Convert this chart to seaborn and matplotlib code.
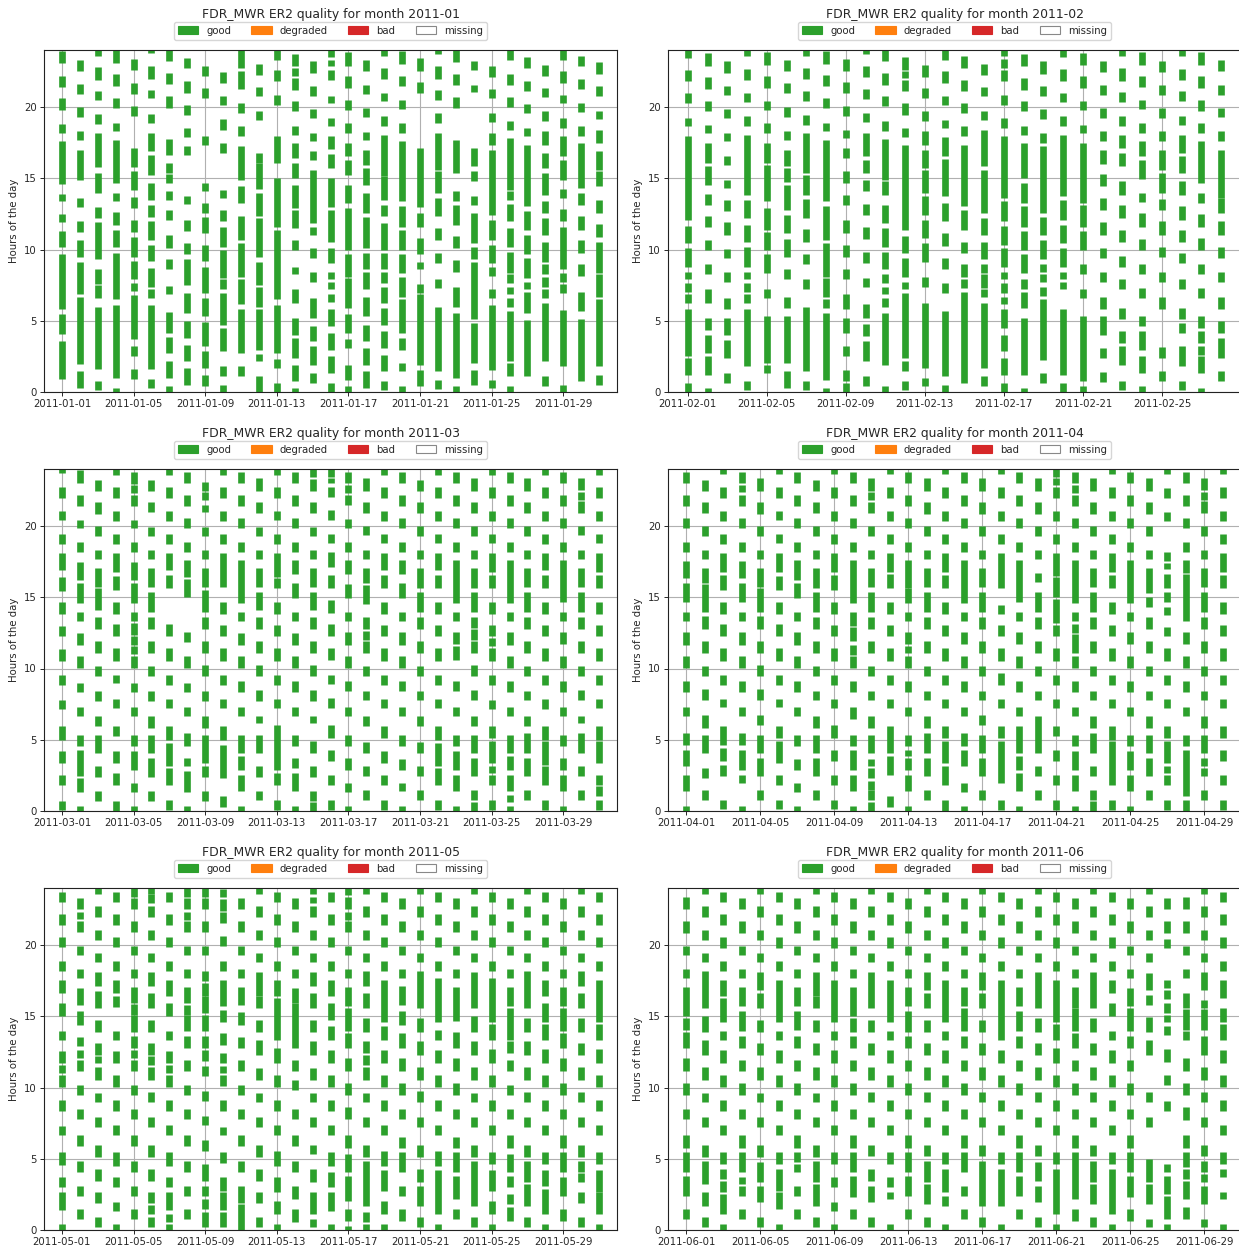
import matplotlib
matplotlib.use("Agg")
import matplotlib.pyplot as plt
import matplotlib.dates as mdates
from matplotlib.patches import Patch
import pandas as pd
import seaborn as sns

# ── data: per day, the hour spans (start-end) flagged "good" ──────────────────
MONTHS = ["2011-01", "2011-02", "2011-03", "2011-04", "2011-05", "2011-06"]

GOOD_JAN = [
    "23.1-23.9 21.4-22.2 19.8-20.6 18.2-18.8 14.6-17.6 13.4-13.9 11.9-12.5 10.2-11.3 5.8-9.7 4.1-5.5 0.9-3.6",
    "22.5-23.3 20.9-21.6 19.3-20.0 17.7-18.3 14.9-17.0 13.0-13.6 11.2-12.0 9.5-10.7 6.9-9.1 2.0-6.7 0.3-1.45",
    "23.6-24 21.9-22.8 20.5-21.1 18.8-19.5 15.8-18.2 14.0-15.4 12.2-13.0 9.3-11.9 7.6-8.6 6.6-7.5 1.6-6.0 0.15-0.75",
    "23.1-24 21.5-22.3 19.9-20.6 18.3-18.9 14.7-17.7 13.4-14.0 11.7-12.6 10.2-11.4 6.5-9.75 1.0-6.1 0-0.3",
    "22.6-23.4 20.9-21.7 19.4-20.1 15.8-17.1 14.2-15.5 12.9-13.7 11.2-12.1 9.5-10.9 7.9-9.2 7.1-7.65 3.7-6.8 2.5-3.2 0.9-1.6",
    "23.8-24 22.0-22.85 20.6-21.2 18.9-19.5 16.9-18.2 15.2-16.6 13.5-14.7 12.3-13.1 10.7-12.0 9.2-10.3 7.4-8.7 6.6-7.2 1.6-6.1 0.3-0.9",
    "23.2-24 21.6-22.4 19.9-20.75 16.65-17.75 15.4-16.1 14.7-15.3 13.5-14.1 12.05-12.75 10.1-11.05 8.6-9.3 6.85-7.45 4.15-5.6 2.75-3.85 1.0-2.2 0-0.4",
    "22.75-23.45 21.0-21.8 19.45-20.15 17.9-18.5 16.6-17.25 13.2-13.75 11.3-12.05 9.65-10.45 7.5-9.3 5.55-6.95 3.8-4.95 2.15-3.3 0.5-1.7",
    "22.15-22.9 20.6-21.3 17.35-18.0 14.1-14.7 12.55-13.25 11.15-12.3 9.2-10.35 6.95-8.8 5.3-6.6 3.2-4.9 1.7-2.85 0.4-1.2",
    "21.7-22.45 20.15-20.75 18.4-19.15 16.8-17.5 13.6-14.2 12.0-12.8 10.2-11.6 8.0-9.95 7.2-7.9 4.7-6.95 2.85-4.5 1.1-1.8 0-0.5",
    "22.75-24 21.25-22.5 19.6-20.3 17.95-18.65 14.9-17.25 13.25-14.45 10.7-12.35 8.1-10.45 6.15-7.9 2.75-5.8 1.1-1.8",
    "22.25-23.05 20.75-21.4 19.1-19.75 16.1-16.75 14.25-16.05 12.35-13.95 9.5-12.2 7.5-9.15 6.0-7.4 2.95-5.8 2.15-2.7 0-1.1",
    "23.3-24 21.8-22.6 20.15-20.85 16.05-17.95 11.6-15.0 6.5-11.4 2.75-6.1 1.7-2.3 0-0.6",
    "22.85-23.7 22.15-22.75 21.2-22.05 19.7-20.4 18.05-18.7 16.4-17.45 15.0-16.1 12.9-14.55 11.5-12.8 10.0-10.7 8.25-8.8 6.25-7.2 4.0-5.2 2.4-3.8 0.75-1.9 0-0.3",
    "22.4-23.2 20.75-21.5 19.2-19.85 17.6-18.2 16.3-16.9 11.85-15.6 11.05-11.6 9.4-10.1 7.7-8.4 5.2-6.6 3.55-4.65 1.9-3.2 0.65-1.35",
    "23.5-24 22.9-23.3 21.9-22.6 20.3-20.75 18.65-19.2 17.05-17.95 15.7-16.7 13.0-15.0 10.55-12.8 9.05-10.1 7.9-8.45 7.2-7.7 6.3-6.85 4.6-5.85 2.95-4.15 1.35-2.5 0-0.65",
    "22.9-23.85 21.35-22.15 19.8-20.5 18.2-18.9 16.55-17.45 15.25-16.3 13.25-14.55 10.0-12.9 8.1-9.65 5.9-8.0 4.15-5.45 3.1-3.7 0.85-1.9 0-0.4",
    "22.5-23.3 20.9-21.55 19.3-19.95 17.65-18.25 15.95-16.95 14.55-15.7 12.55-14.0 10.1-12.3 8.6-9.75 7.2-8.45 5.3-6.7 3.55-4.7 1.9-3.1 0.3-1.45",
    "23.55-24 21.95-22.75 20.4-21.0 18.7-19.4 15.15-18.05 13.5-15.15 12.35-13.15 10.0-11.85 8.6-9.75 7.65-8.45 6.25-7.4 4.7-5.9 3.1-4.25 1.45-2.6 0.15-0.75",
    "23.05-23.9 21.45-22.2 19.85-20.5 18.2-18.9 13.4-17.6 11.6-13.05 10.0-11.4 8.35-9.65 6.7-8.1 4.15-6.5 2.95-3.8 1.45-2.05 0-0.4",
    "22.5-23.45 21.0-21.75 13.0-17.1 11.6-12.55 9.65-10.8 8.6-9.15 6.95-7.55 1.9-6.85 0.4-1.55",
    "23.7-24 21.95-22.85 20.5-21.2 18.9-19.55 15.6-18.2 14.0-15.5 12.35-13.6 10.7-11.5 9.05-9.75 7.3-7.95 1.45-6.0 0.2-0.85",
    "23.15-24 21.55-22.35 19.95-20.7 15.35-17.7 13.4-14.1 11.75-13.15 10.1-10.95 8.45-9.25 6.0-7.4 1.0-5.55 0-0.4",
    "22.6-23.25 21.05-21.55 15.85-17.1 14.8-15.5 13.15-13.75 10.45-12.55 9.3-10.2 5.1-9.15 2.05-4.85 0.5-1.55",
    "22.1-22.85 20.6-21.25 18.95-19.6 17.3-18.2 12.45-16.95 10.7-12.1 9.05-10.35 8.15-8.8 6.6-7.2 1.55-6.1 0.3-0.85",
    "23.3-24 21.55-22.35 20.0-20.7 18.4-19.05 14.2-17.8 13.5-14.1 12.0-13.2 10.2-11.5 8.35-9.85 7.65-8.25 6.85-7.4 6.0-6.6 2.15-5.65 1.1-2.05 0-0.4",
    "22.75-23.5 21.15-21.85 19.6-20.2 17.95-18.55 13.05-17.3 11.4-12.7 9.65-11.05 8.0-9.4 7.2-7.7 5.55-7.05 1.1-5.05",
    "22.2-22.95 20.7-21.35 19.05-19.7 17.35-18.35 15.7-16.75 13.85-15.35 12.55-13.4 11.05-12.2 9.15-10.55 8.25-8.95 7.4-8.1 6.6-7.2 2.15-6.25 0.4-1.1",
    "23.3-24 21.7-22.5 20.25-20.85 18.5-19.2 16.55-17.95 14.9-16.3 13.6-14.25 12.0-12.85 8.6-11.6 7.75-8.35 6.95-7.55 1.8-5.75 0-0.5",
    "22.85-23.6 21.25-21.95 19.65-20.3 18.0-18.65 14.3-17.45 13.15-13.95 11.4-12.35 9.75-10.7 8.15-8.95 5.65-7.05 0.75-5.1",
    "22.35-23.15 20.8-21.45 19.15-19.75 17.45-18.4 15.6-16.9 14.45-15.5 12.55-13.5 10.9-11.8 8.35-10.55 6.7-8.25 1.8-6.5 0.5-1.2",
]

GOOD_FEB = [
    "23.45-24 21.8-22.6 20.25-20.95 18.65-19.25 12.1-18.0 10.45-11.65 8.8-10.1 7.9-8.45 7.05-7.65 6.25-6.85 2.5-5.8 1.2-2.4 0-0.65",
    "22.9-23.8 21.25-22.1 19.7-20.4 18.15-18.75 16.05-17.45 14.55-15.85 13.15-13.9 11.6-12.35 9.95-10.7 8.25-8.95 6.25-7.2 4.35-5.2 2.75-4.0 1.2-2.5 0-0.3",
    "22.4-23.2 20.85-21.5 19.25-19.85 17.6-18.2 15.95-16.55 14.3-14.9 12.7-13.5 11.05-11.9 9.4-10.05 7.75-8.4 5.8-6.6 4.0-5.2 2.4-3.65 0.65-1.35",
    "23.55-24 21.9-22.65 20.35-21.0 18.7-19.35 13.85-18.05 12.2-13.5 10.55-11.75 8.8-10.2 7.9-8.45 7.05-7.65 6.25-6.85 1.8-5.8 0.15-0.75",
    "22.95-23.85 21.35-22.15 19.8-20.45 18.2-18.85 16.05-17.5 13.4-15.9 11.4-12.9 10.0-11.25 8.35-9.65 6.6-7.2 2.05-5.3 1.35-1.9",
    "22.5-23.3 20.95-21.65 19.3-20.0 17.7-18.3 15.85-17.0 14.75-15.7 12.8-14.55 11.15-12.4 9.5-10.75 7.9-8.6 5.9-6.7 2.05-5.3 0.3-1.45",
    "23.6-24 21.95-22.75 20.45-21.1 18.75-19.45 15.35-18.2 13.85-15.25 12.2-13.55 10.55-11.45 8.95-9.7 7.25-7.9 1.45-6.0 0.15-0.75",
    "23.05-23.9 21.5-22.25 19.95-20.65 18.3-18.9 13.4-17.7 10.7-13.05 8.1-10.45 6.7-8.0 5.9-6.5 0.85-5.55 0-0.3",
    "22.55-23.35 21.0-21.75 19.4-20.1 17.8-18.4 16.4-17.1 14.7-15.5 13.1-13.8 11.15-12.1 9.5-10.35 7.9-8.65 5.8-6.85 4.15-5.2 2.5-3.2 0.75-1.55 0-0.65",
    "23.75-24 22.1-22.9 20.55-21.25 18.95-19.6 16.55-18.2 15.35-16.3 14.1-14.9 12.45-13.2 10.75-11.6 9.05-9.8 7.35-8.0 5.2-6.15 3.9-4.75 2.15-3.55 0.4-1.1",
    "23.2-24 21.55-22.4 20.05-20.75 18.35-19.05 14.9-17.75 13.85-14.8 11.85-13.15 10.2-11.5 8.6-9.85 7.65-8.25 6.85-7.4 6.0-6.6 1.9-5.55 0-0.4",
    "22.6-23.5 22.05-22.5 21.1-21.9 19.45-20.25 17.9-18.55 11.4-17.3 9.75-10.95 8.1-9.4 7.2-7.7 2.4-6.95 1.45-2.15 0.15-0.75",
    "22.1-22.95 20.65-21.35 19.0-19.7 17.35-18.3 15.7-17.0 13.95-15.6 12.45-13.75 10.8-12.1 9.15-10.45 7.4-8.1 1.7-6.25 0.4-1.0",
    "23.3-24 21.7-22.5 20.15-20.8 18.55-19.1 16.55-17.9 13.75-16.35 12.0-13.25 10.25-11.15 8.65-9.4 6.95-7.65 1.1-5.65 0-0.5",
    "22.75-23.55 21.1-21.9 19.6-20.3 17.95-18.65 13.05-17.35 11.4-12.75 9.75-10.55 8.1-8.95 7.3-7.9 0.65-7.05",
    "22.25-23.05 20.75-21.4 19.1-19.7 15.85-18.4 12.55-15.55 11.05-12.2 9.3-10.55 8.35-8.95 7.3-8.25 6.7-7.2 1.7-6.25 0.45-1.1",
    "23.55-24 22.75-23.35 21.8-22.6 20.15-20.85 18.55-19.25 13.6-17.95 12.0-13.4 10.35-11.65 8.8-10.1 7.9-8.45 6.95-7.65 6.15-6.7 4.5-5.8 2.85-4.0 1.2-2.4 0-0.65",
    "22.85-23.7 21.2-22.05 19.7-20.4 18.05-18.7 15.05-17.45 13.25-14.7 11.6-13.05 10.0-11.3 8.35-9.65 7.25-7.9 5.9-7.05 1.2-5.2 0-0.3",
    "22.35-23.2 20.8-21.5 19.15-19.85 17.5-18.2 12.55-17.25 11.05-12.3 9.3-10.7 8.4-9.0 7.7-8.3 6.75-7.35 2.25-6.55 0.65-1.35",
    "23.5-24 21.85-22.65 20.35-21.0 18.65-19.35 13.75-18.05 12.1-13.45 10.45-11.75 8.8-10.1 7.95-8.45 7.2-7.7 1.2-5.8 0-0.65",
    "22.95-23.8 21.35-22.15 19.8-20.45 18.2-18.75 13.25-17.45 11.6-13.15 10.0-11.3 8.3-8.95 6.6-7.2 0.75-5.3 0-0.4",
    "22.45-23.25 20.85-21.55 19.25-19.95 17.6-18.3 16.0-16.95 14.45-15.3 12.8-13.6 11.05-11.9 9.4-10.1 7.75-8.45 5.8-6.65 4.0-5.3 2.4-3.1 0.7-1.4",
    "23.55-24 21.85-22.75 20.35-21.05 18.7-19.4 17.1-18.05 15.85-16.75 13.85-14.8 12.2-13.1 10.55-11.4 8.8-9.55 7.2-7.9 5.1-5.9 3.45-4.25 1.9-3.2 0.15-0.75",
    "22.95-23.85 21.4-22.15 19.85-20.5 18.2-18.9 16.55-17.6 14.95-16.25 13.3-13.95 11.6-12.55 10.0-10.75 8.3-9.0 6.6-7.3 4.6-5.3 2.95-4.25 1.35-2.5 0-0.4",
    "22.45-23.25 20.85-21.55 19.25-19.95 17.6-18.3 15.6-17.0 14.0-15.35 12.75-13.55 11.05-12.0 9.5-10.2 7.7-8.4 5.8-6.7 2.4-3.15 0.75-1.45",
    "23.55-24 21.9-22.7 20.4-21.1 18.75-19.4 16.75-18.05 15.35-16.55 13.85-14.8 12.1-13.05 10.55-11.4 9.05-9.75 7.2-7.9 5.1-5.9 4.15-4.85 1.8-3.2 0.15-0.75",
    "22.95-23.85 21.35-22.15 19.75-20.5 18.2-18.9 14.65-17.6 13.25-14.0 11.6-12.5 10.0-10.8 8.3-9.0 6.6-7.3 4.5-5.35 3.45-4.25 2.6-3.2 1.35-2.5 0-0.3",
    "22.5-23.3 20.85-21.55 19.3-19.95 17.6-18.3 13.6-17.0 12.55-13.6 11.05-12.0 9.4-10.2 7.7-8.4 5.8-6.7 4.15-4.95 2.4-3.8 0.75-1.45",
]

GOOD_MAR = [
    "23.7-24 21.95-22.75 20.4-21.05 18.75-19.45 16.9-18.1 15.45-16.45 13.85-14.7 12.25-13.0 10.5-11.35 8.85-9.55 7.15-7.8 5.0-5.95 3.4-4.2 1.8-2.55 0.1-0.7",
    "23.0-23.9 21.4-22.15 19.85-20.45 18.2-18.85 16.2-17.5 14.6-16.0 13.3-13.95 11.65-12.5 10.05-10.85 8.35-9.0 6.65-7.3 4.55-5.35 2.45-4.3 1.3-2.35 0-0.35",
    "22.45-23.25 20.85-21.65 19.3-20.0 17.65-18.3 15.75-17.05 14.1-15.65 12.75-13.6 11.1-11.95 9.45-10.2 7.75-8.45 6.0-6.7 4.1-5.35 2.4-3.15 0.7-1.4",
    "23.6-24 21.95-22.75 20.35-21.05 18.75-19.45 16.8-18.1 15.5-16.5 13.85-14.7 12.25-13.15 10.55-11.45 8.95-9.55 7.25-7.85 5.25-5.95 3.4-4.2 1.85-2.65 0-0.7",
    "22.95-23.8 22.35-22.9 21.4-22.15 19.85-20.45 18.2-18.85 16.2-17.5 14.6-16.0 13.3-14.0 12.35-13.2 11.65-12.25 11.05-11.55 10.05-10.85 8.35-9.0 6.65-7.3 4.55-5.35 2.9-4.2 1.35-2.0 0-0.35",
    "22.45-23.25 20.95-21.65 19.3-19.95 17.65-18.3 15.75-17.05 14.0-15.35 12.75-13.6 11.1-11.95 9.45-10.2 7.75-8.45 5.85-6.7 4.1-5.35 2.4-3.75 0.7-1.4",
    "23.6-24 21.95-22.75 20.35-21.05 18.75-19.45 16.9-18.1 15.65-16.55 12.25-13.15 10.55-11.45 8.85-9.55 7.25-7.85 5.0-5.95 3.15-4.8 1.85-3.05 0.1-0.8",
    "23.05-23.8 21.4-22.15 19.85-20.55 18.2-18.9 16.4-17.6 15.0-16.3 11.85-12.55 10.05-10.85 8.35-9.0 6.7-7.3 4.55-5.45 3.15-3.75 1.35-2.8 0-0.35",
    "22.45-23.1 21.85-22.4 20.95-21.45 19.3-19.95 17.65-18.3 15.75-17.05 14.0-15.5 12.75-13.6 11.1-11.95 9.45-10.25 7.75-8.45 5.85-6.7 3.4-5.35 2.4-3.15 0.7-1.4",
    "23.6-24 21.95-22.75 20.35-21.05 18.75-19.45 15.75-18.1 13.85-14.7 12.25-13.05 10.55-11.45 8.85-9.55 7.25-7.85 5.0-5.95 2.35-4.65 0.25-1.05",
    "23.05-23.8 21.4-22.15 19.85-20.55 18.2-18.9 14.6-17.6 13.3-13.95 11.65-12.5 10.05-10.85 8.35-9.1 6.7-7.3 4.1-5.35 2.9-3.85 1.4-2.55 0-0.35",
    "22.45-23.35 20.9-21.65 19.3-19.95 17.65-18.3 15.75-17.05 14.1-15.35 12.75-13.6 11.1-11.95 9.45-10.25 7.75-8.5 6.2-6.7 4.1-5.35 2.4-3.15 0.8-1.4",
    "23.6-24 21.95-22.75 20.4-21.05 18.75-19.45 16.45-18.1 15.65-16.35 13.85-14.7 12.25-13.05 10.55-11.45 8.85-9.55 7.25-7.85 2.9-6.05 1.85-2.7 0.1-0.8",
    "23.05-23.8 21.4-22.15 19.85-20.55 18.2-18.9 16.6-17.6 14.95-16.0 13.3-13.95 11.65-12.5 10.05-10.85 8.35-9.1 6.7-7.3 4.55-5.35 3.05-3.75 1.4-2.7 0-0.35",
    "23.45-24 22.45-23.3 20.9-21.65 19.3-19.95 17.65-18.3 15.75-17.05 14.1-15.35 12.75-13.6 11.1-11.95 9.45-10.25 7.75-8.5 6.2-6.7 4.1-4.9 2.4-3.15 0.7-1.4 0-0.6",
    "23.45-24 23.0-23.4 22.05-22.75 20.4-21.1 18.8-19.45 17.15-18.15 15.65-16.55 13.9-14.8 12.25-13.15 10.6-11.45 8.9-9.55 7.25-7.95 5.15-6.05 3.5-4.25 1.85-2.55 0.1-0.8",
    "23.05-23.8 22.35-22.9 21.45-22.15 19.85-20.5 18.2-18.9 16.6-17.6 14.95-15.95 13.3-13.95 11.65-12.55 10.05-10.85 8.4-9.1 6.65-7.3 4.55-5.35 2.9-3.75 1.35-2.0 0-0.35",
    "22.45-23.35 20.9-21.65 19.35-20.0 17.65-18.3 16.0-17.05 14.5-15.85 12.75-13.6 12.0-12.6 11.1-11.95 9.5-10.2 7.8-8.45 6.0-6.7 4.1-4.85 2.45-3.15 0.75-1.45",
    "23.6-24 21.95-22.75 20.35-21.05 18.8-19.45 16.9-18.1 15.65-16.55 13.85-14.7 12.25-13.05 10.55-11.45 8.85-9.55 7.25-7.85 5.15-6.0 3.4-4.2 1.85-2.55 0.1-0.8",
    "23.05-23.8 21.4-22.15 19.85-20.55 18.2-18.9 16.6-17.6 14.95-16.0 13.3-13.95 11.65-12.55 10.05-10.85 8.4-9.1 6.7-7.3 4.55-5.35 2.9-3.65 1.4-2.0 0-0.35",
    "22.45-23.25 20.9-21.65 19.3-20.0 17.65-18.3 15.65-17.05 14.0-15.4 12.75-13.6 11.1-11.95 9.5-10.2 7.8-8.45 6.0-6.7 4.1-4.85 2.45-3.15 0.75-1.45",
    "23.6-24 21.95-22.75 20.35-21.05 18.8-19.45 16.9-18.1 15.65-16.55 13.85-14.7 12.25-13.05 10.55-11.45 8.85-9.55 7.25-7.85 5.0-6.0 3.15-4.8 1.85-3.05 0.1-0.8",
    "23.05-23.8 21.4-22.15 19.85-20.55 18.2-18.9 14.6-17.6 13.3-13.95 11.75-12.55 10.6-11.55 8.4-9.1 6.7-7.3 4.55-5.35 2.9-4.2 1.4-2.55 0-0.35",
    "22.45-23.35 20.9-21.65 19.3-20.0 17.65-18.3 15.65-17.05 14.0-15.4 12.85-13.6 12.0-12.75 11.1-11.95 9.5-10.25 7.8-8.5 6.0-6.7 4.1-5.35 2.45-3.75 0.75-1.45 0-0.6",
    "23.6-24 21.95-22.75 20.35-21.05 18.8-19.45 16.8-18.1 15.65-16.55 13.85-14.7 12.25-13.05 11.55-12.15 10.55-11.45 8.85-9.55 7.15-7.8 5.15-6.0 3.4-4.9 2.7-3.15 1.85-2.55 0.1-0.8",
    "23.05-23.8 21.4-22.15 19.85-20.55 18.2-18.9 14.6-17.6 13.3-13.95 11.65-12.55 10.05-10.85 8.35-9.1 6.7-7.3 4.1-5.35 2.9-3.85 1.4-2.55 0.6-1.15 0-0.35",
    "22.45-23.35 20.9-21.65 19.3-20.0 17.65-18.3 15.75-17.05 14.0-15.4 12.75-13.6 11.1-11.95 9.5-10.2 7.8-8.45 6.0-6.7 4.1-5.5 2.45-3.75 0.75-1.45",
    "23.6-24 21.95-22.75 20.35-21.05 18.75-19.45 16.9-18.1 15.65-16.55 13.85-14.7 12.25-13.05 10.55-11.45 8.85-9.55 7.15-7.85 5.0-6.0 3.25-4.9 1.85-3.15 0.1-0.8",
    "23.05-23.8 21.4-22.15 19.85-20.55 18.2-18.9 14.7-17.6 13.3-13.95 11.75-12.55 10.05-10.85 8.35-9.1 6.7-7.3 4.55-5.35 2.9-3.75 1.4-2.55 0-0.35",
    "22.55-23.35 21.8-22.4 20.9-21.75 19.35-20.0 17.65-18.3 15.75-17.05 14.0-15.4 12.75-13.6 11.1-11.95 9.5-10.2 7.8-8.5 6.2-6.7 4.1-5.5 2.45-3.15 0.75-1.45",
    "23.6-24 21.95-22.75 20.35-21.05 18.8-19.45 16.8-18.1 15.65-16.55 13.85-14.7 12.25-13.05 10.55-11.45 8.85-9.55 7.25-7.85 5.0-6.0 3.4-4.9 1.85-2.55 1.05-1.75 0.1-0.8",
]

GOOD_APR = [
    "23.05-23.8 21.4-22.15 19.85-20.55 18.2-18.9 16.35-17.55 14.65-16.0 13.3-13.95 11.65-12.55 10.05-10.85 8.35-9.1 6.7-7.3 4.6-5.5 3.15-4.3 1.4-2.55 0-0.35",
    "22.45-23.25 20.9-21.65 19.3-20.0 17.65-18.3 16.0-17.05 14.0-15.95 12.75-13.65 11.1-11.95 9.45-10.2 7.8-8.55 5.85-6.75 4.1-5.35 2.35-3.05 0.75-1.45",
    "23.65-24 21.95-22.75 20.35-21.05 18.75-19.45 16.8-18.1 15.5-16.55 13.85-14.7 12.25-13.15 10.55-11.45 8.85-9.55 7.3-7.85 4.65-5.95 3.5-4.4 2.45-3.25 0.15-0.8",
    "23.05-23.8 22.4-22.9 21.4-22.15 19.85-20.55 18.2-18.9 16.35-17.55 14.65-16.0 13.3-13.95 11.65-12.55 10.05-10.85 8.35-9.1 6.7-7.3 4.6-5.5 2.9-4.3 2.0-2.55 0-0.35",
    "22.45-23.35 20.85-21.65 19.3-20.0 17.65-18.3 15.75-17.05 14.0-15.65 12.75-13.65 11.1-11.95 9.45-10.25 7.8-8.55 6.05-6.75 4.1-5.35 2.45-3.75 0.75-1.45",
    "23.65-24 21.95-22.75 20.45-21.05 18.8-19.45 16.8-18.1 15.5-16.5 13.85-14.7 12.25-13.15 10.55-11.45 8.85-9.55 7.3-7.85 5.15-6.0 3.4-4.9 1.85-2.55 0.15-0.8",
    "23.05-23.8 21.4-22.15 19.85-20.55 18.2-18.9 16.2-17.6 14.95-16.0 13.3-13.95 11.65-12.55 10.05-10.85 8.35-9.1 6.7-7.3 4.55-5.35 2.9-3.65 1.35-2.0 0-0.35",
    "22.45-23.25 20.9-21.65 19.3-20.0 17.65-18.3 15.65-17.05 14.0-15.4 12.75-13.6 11.1-11.95 9.5-10.2 7.8-8.45 5.85-6.7 4.1-5.35 2.45-3.75 0.75-1.45",
    "23.65-24 21.95-22.75 20.35-21.05 18.75-19.45 16.8-18.1 15.5-16.55 13.85-14.7 12.25-13.05 10.55-11.45 8.85-9.55 7.25-7.85 5.15-6.05 3.5-4.3 1.85-2.55 0.15-0.8",
    "23.05-23.8 21.4-22.15 19.85-20.55 18.2-18.9 14.6-17.6 12.95-13.95 11.9-12.9 10.95-11.65 10.05-10.85 8.35-9.1 6.45-7.3 4.55-5.35 2.9-4.3 1.4-2.55 0-0.35",
    "22.45-23.35 21.85-22.4 20.9-21.65 19.3-20.0 17.65-18.3 15.75-17.05 14.0-15.35 12.75-13.6 11.1-11.95 9.5-10.2 7.8-8.45 5.85-6.7 4.1-5.35 3.15-3.65 2.35-3.05 1.5-2.1 0.75-1.45 0-0.6",
    "23.65-24 21.95-22.75 20.35-21.05 18.75-19.45 16.8-18.1 15.65-16.6 13.85-14.7 12.25-13.05 10.55-11.45 8.85-9.55 7.25-7.85 4.1-6.0 2.55-3.85 0.25-1.05",
    "23.05-23.8 21.4-22.15 19.85-20.55 18.2-18.9 15.65-17.6 14.6-15.65 13.3-13.95 11.75-12.55 11.1-11.55 10.05-10.85 8.35-9.1 6.7-7.3 4.55-5.35 3.85-4.3 2.9-3.75 1.4-2.55 0-0.35",
    "22.45-23.35 20.85-21.65 19.3-20.0 17.65-18.3 15.75-17.05 14.0-15.4 12.75-13.6 11.1-11.95 9.5-10.2 7.8-8.45 5.85-6.7 4.1-5.5 2.45-3.75 0.75-1.45",
    "23.65-24 21.95-22.75 20.35-21.05 18.75-19.45 16.8-18.1 15.65-16.55 13.85-14.7 12.25-13.05 10.55-11.45 8.85-9.55 7.25-7.85 5.15-6.0 3.4-4.9 1.85-3.15 0-0.8",
    "23.05-23.8 21.4-22.15 19.85-20.55 18.2-18.9 14.6-17.6 13.3-13.95 11.75-12.55 10.05-10.85 8.35-9.1 6.7-7.3 4.55-5.5 3.15-4.3 1.35-2.0 0-0.35",
    "22.45-23.35 20.85-21.65 19.3-20.0 17.65-18.3 15.75-17.05 14.0-15.4 12.75-13.6 11.1-11.95 9.5-10.2 7.8-8.45 6.05-6.75 4.1-5.35 2.45-3.75 0.75-1.45",
    "23.65-24 21.95-22.75 20.35-21.05 18.75-19.45 15.65-18.1 13.85-14.45 12.25-13.05 10.55-11.45 8.85-9.65 7.25-7.85 5.15-6.0 2.0-4.9 0.1-0.8",
    "23.05-23.8 21.4-22.15 19.85-20.55 18.2-18.9 14.7-17.6 13.3-13.95 11.75-12.55 10.05-10.85 8.35-9.1 6.7-7.3 4.1-5.95 2.9-3.85 1.4-2.7 0-0.35",
    "22.45-23.35 20.85-21.65 19.3-20.0 17.65-18.3 16.1-16.7 14.0-15.4 12.75-13.6 11.1-11.95 9.5-10.2 7.8-8.45 4.1-6.7 2.45-3.15 0.75-1.45",
    "23.45-24 22.9-23.4 21.95-22.75 20.35-21.05 18.75-19.45 16.5-18.1 15.0-16.4 13.2-14.9 12.25-13.05 10.55-11.45 8.85-9.55 7.25-7.85 5.25-6.0 3.5-4.3 1.85-2.55 0.1-0.8",
    "23.05-23.8 22.35-22.9 21.4-22.15 19.85-20.55 18.2-18.9 14.6-17.6 13.3-13.95 12.5-13.15 11.1-12.4 10.05-10.85 8.35-9.1 6.7-7.3 4.55-5.35 2.9-4.2 1.4-2.55 0-0.35",
    "22.45-23.35 20.85-21.65 19.3-20.0 17.65-18.3 15.75-17.05 14.0-15.4 12.75-13.6 11.1-11.95 9.5-10.2 7.8-8.45 5.85-6.7 4.1-5.5 2.45-3.15 0.8-1.45 0-0.7",
    "23.65-24 21.95-22.75 20.35-21.05 18.75-19.45 16.8-18.1 15.65-16.55 13.85-14.7 12.25-13.05 10.55-11.45 8.85-9.55 7.25-7.85 5.0-6.0 1.85-4.9 0.1-0.8",
    "23.05-23.8 21.4-22.15 19.85-20.55 18.2-18.9 14.6-17.6 13.3-13.95 11.75-12.55 10.05-10.85 8.35-9.1 6.7-7.3 4.55-5.35 2.9-4.2 1.4-2.55 0-0.35",
    "22.45-23.35 20.85-21.65 19.3-20.0 17.65-18.3 15.3-17.05 14.35-15.0 12.75-13.6 11.1-11.95 9.5-10.2 7.8-8.45 5.85-6.7 4.1-5.35 2.45-3.75 0.75-1.45",
    "23.65-24 21.95-22.65 20.35-21.0 17.55-18.15 16.95-17.4 15.65-16.65 14.65-15.4 13.75-14.35 12.25-12.9 10.55-11.45 8.85-9.55 7.25-7.85 5.15-6.0 3.4-4.9 2.7-3.15 1.85-2.55 0.1-0.8",
    "23.05-23.8 21.4-22.15 19.85-20.55 18.2-18.9 16.7-17.6 13.3-16.65 11.75-12.55 10.05-10.85 8.35-9.1 6.7-7.3 4.55-5.35 1.05-4.3 0-0.8",
    "22.55-23.35 21.8-22.4 20.9-21.75 19.3-20.0 17.65-18.3 15.75-17.05 14.0-15.4 12.75-13.6 11.1-11.95 9.5-10.2 7.8-8.45 5.85-6.7 4.1-5.35 3.15-3.75 2.45-3.05 0.75-1.45",
    "23.65-24 21.95-22.75 20.35-21.05 18.75-19.45 16.8-18.1 15.65-16.55 13.85-14.7 12.25-13.05 10.55-11.45 8.85-9.55 7.25-7.85 5.15-6.0 3.5-4.3 1.85-2.55 0.1-0.8",
]

GOOD_MAY = [
    "23.05-23.75 21.4-22.2 19.85-20.55 18.2-18.9 16.6-17.55 15.0-15.95 13.35-13.95 11.75-12.55 11.05-11.6 10.05-10.9 8.35-9.1 6.7-7.3 4.55-5.45 3.0-3.7 1.4-2.65 0-0.4",
    "22.5-23.3 21.8-22.35 20.9-21.65 19.3-19.95 17.7-18.3 15.8-17.0 14.4-15.35 12.9-13.55 12.1-12.65 11.15-11.95 9.45-10.2 7.8-8.5 5.9-6.7 4.05-4.85 2.4-3.1 0.75-1.45",
    "23.6-24 21.95-22.75 20.35-21.05 18.8-19.45 17.1-18.1 15.6-16.75 13.9-14.75 12.3-13.1 11.75-12.2 10.55-11.45 8.95-9.6 7.25-7.9 5.15-6.0 3.45-4.25 1.9-2.65 0.2-0.9",
    "23.05-23.75 21.4-22.2 19.85-20.55 18.2-18.9 16.65-17.55 15.65-16.45 13.35-13.95 11.7-12.55 10.05-10.85 8.35-9.1 6.7-7.35 4.5-5.45 3.0-3.7 1.35-2.0 0-0.4",
    "23.35-24 22.5-23.3 20.9-21.65 19.3-19.95 17.7-18.3 15.9-17.05 15.1-15.85 13.9-15.1 12.8-13.6 12.1-12.65 11.15-11.95 9.45-10.2 7.8-8.5 5.9-6.7 4.05-4.85 2.4-3.1 0.75-1.45",
    "23.6-24 22.95-23.55 21.95-22.75 20.35-21.05 18.8-19.45 17.1-18.1 15.6-16.6 13.9-14.75 12.3-13.1 11.6-12.2 10.55-11.45 8.95-9.7 7.25-7.9 5.15-6.0 3.45-4.25 1.9-2.65 1.1-1.75 0.2-0.9",
    "23.05-23.75 21.4-22.2 19.85-20.55 18.2-18.9 16.45-17.55 15.0-15.95 13.35-13.95 11.7-12.55 11.05-11.6 10.05-10.85 8.35-9.1 6.7-7.35 4.5-5.45 3.0-3.7 1.4-2.65 0.55-1.1 0-0.4",
    "23.35-24 22.5-23.3 21.75-22.35 20.9-21.65 19.3-19.95 17.7-18.3 15.9-17.05 15.1-15.8 13.95-15.1 12.8-13.6 11.15-11.95 9.45-10.2 7.8-8.5 5.9-6.7 4.05-4.85 2.4-3.1 0.75-1.45",
    "23.4-24 22.5-23.3 20.9-21.65 19.3-19.95 17.45-18.15 16.4-17.35 15.25-16.4 13.95-15.1 12.8-13.6 11.85-12.65 10.8-11.5 9.05-9.75 7.35-8.0 5.55-6.35 3.45-4.6 2.4-3.1 1.45-2.15 0.2-1.25",
    "23.4-23.9 22.4-23.2 21.55-22.3 19.9-20.6 18.2-18.9 15.7-17.55 14.6-15.45 13.0-13.8 11.75-12.45 11.05-11.5 10.1-10.85 8.35-9.1 6.65-7.25 4.7-5.5 2.75-3.75 1.4-2.65 0.2-1.25",
    "22.5-23.3 20.9-21.65 19.3-19.95 17.7-18.3 15.8-17.05 14.4-15.3 12.8-13.55 11.15-11.95 9.45-10.2 7.8-8.5 5.9-6.7 4.05-4.85 1.9-3.1 0-1.8",
    "23.6-24 21.95-22.75 20.35-21.05 18.8-19.45 16.4-18.1 15.6-16.4 13.9-14.75 12.3-13.35 10.55-11.4 8.95-9.6 7.25-7.9 5.15-6.0 3.45-4.25 1.9-2.65 0.2-0.9",
    "23.05-23.75 21.4-22.2 19.85-20.55 18.2-18.9 16.45-17.55 13.35-16.3 11.7-12.8 10.05-10.85 8.35-9.1 6.7-7.35 4.5-5.55 2.65-3.7 1.1-2.05 0-0.4",
    "22.5-23.3 20.9-21.65 19.3-19.95 17.7-18.3 15.9-17.0 12.8-15.9 11.15-11.95 9.85-10.55 7.8-8.5 5.9-6.7 4.05-4.85 2.15-3.1 0.55-1.45",
    "23.55-24 22.95-23.4 21.95-22.75 20.35-21.05 18.8-19.45 17.1-18.1 15.6-16.6 13.9-14.75 12.3-13.25 10.55-11.4 8.95-9.6 7.25-7.9 5.3-5.95 3.35-4.25 1.1-2.65 0.2-0.75",
    "23.05-23.75 21.4-22.2 19.85-20.55 18.2-18.9 16.45-17.55 14.75-15.95 13.35-14.3 11.7-12.65 10.05-10.9 8.35-9.1 6.7-7.35 4.5-5.45 3.0-4.1 1.35-2.65 0-0.4",
    "23.5-24 22.5-23.35 21.75-22.35 20.9-21.65 19.3-19.95 17.7-18.3 15.7-17.05 13.95-15.6 12.8-13.85 11.15-12.1 9.5-10.35 7.8-8.6 5.75-6.7 4.05-5.3 2.05-3.8 0.65-1.45 0-0.3",
    "23.6-24 21.95-22.75 20.35-21.05 18.8-19.45 17.1-18.15 15.6-16.6 13.9-14.9 12.45-13.25 11.6-12.3 10.55-11.45 8.95-9.6 7.25-7.9 5.1-5.95 1.7-4.85 0.55-1.25 0-0.4",
    "23.05-23.75 21.4-22.2 19.85-20.55 18.2-18.9 14.6-17.55 13.35-14.35 11.7-12.65 10.05-10.85 8.35-9.1 6.7-7.35 4.5-5.55 2.75-4.2 1.1-2.05 0-0.4",
    "22.5-23.3 20.9-21.65 19.3-19.95 17.7-18.3 15.8-17.1 14.4-15.35 12.8-13.85 11.15-12.1 9.5-10.35 7.8-8.5 5.75-6.5 4.05-5.45 2.4-3.1 0.65-1.45",
    "23.6-24 21.95-22.75 20.35-21.05 18.8-19.45 15.6-18.15 13.9-14.9 12.3-13.25 10.55-11.45 8.95-9.75 7.25-7.9 5.1-6.0 3.35-4.25 1.7-3.1 0.2-0.9",
    "23.05-23.75 21.4-22.2 19.85-20.55 18.2-18.9 14.6-17.65 13.35-14.05 11.7-12.65 10.05-10.9 8.35-9.1 6.7-7.35 4.5-5.55 1.1-4.2 0-0.4",
    "22.5-23.3 20.9-21.65 19.3-19.95 17.7-18.3 14.65-17.05 12.8-13.9 11.15-12.1 9.5-10.35 7.8-8.5 5.75-6.5 4.05-5.45 2.15-3.8 0.75-1.45",
    "23.6-24 21.95-22.75 20.35-21.05 18.8-19.45 15.6-18.1 13.9-15.0 12.3-13.25 10.55-11.45 8.95-9.6 7.25-7.9 5.15-5.95 1.7-4.85 0.2-0.9",
    "23.05-23.75 21.4-22.2 19.85-20.55 18.2-18.9 14.6-17.65 13.35-14.45 11.7-12.7 10.05-10.85 8.35-9.1 6.7-7.35 4.6-5.45 2.75-4.2 1.1-2.05 0-0.4",
    "22.5-23.3 20.9-21.65 19.3-19.95 17.7-18.3 15.7-17.05 13.35-15.6 12.45-13.25 11.15-11.95 9.5-10.2 7.8-8.5 5.75-6.7 4.05-5.3 3.0-3.8 1.8-2.5 0.65-1.6",
    "23.6-24 21.95-22.75 20.35-21.05 18.8-19.45 15.6-18.15 13.9-14.9 12.3-13.25 10.55-11.45 8.95-9.7 7.25-7.9 5.15-5.95 3.35-4.85 1.7-3.2 0.2-0.9",
    "23.05-23.75 21.4-22.2 19.85-20.55 18.2-18.9 16.4-17.55 14.6-15.95 13.35-14.45 11.7-12.7 10.05-10.85 8.35-9.1 6.7-7.35 4.6-5.45 3.1-4.2 1.1-2.85 0-0.4",
    "22.5-23.3 20.9-21.65 19.3-19.95 17.7-18.3 15.7-17.05 13.95-15.6 12.8-13.85 11.15-12.1 9.5-10.35 7.8-8.5 5.75-6.7 4.05-5.45 2.4-3.7 0.65-1.45",
    "23.6-24 21.95-22.75 20.35-21.05 18.8-19.45 17.1-18.15 15.6-16.6 13.9-14.9 12.3-13.1 10.55-11.45 8.95-9.7 7.25-7.9 5.1-5.95 4.05-4.85 3.35-4.0 1.9-2.65 0.2-0.9",
    "23.05-23.75 21.4-22.2 19.85-20.55 18.2-18.9 14.6-17.55 13.35-14.45 11.7-12.7 10.05-10.85 8.35-9.1 6.7-7.35 4.6-5.45 2.65-4.2 1.1-2.65 0-0.4",
]

GOOD_JUN = [
    "22.5-23.35 20.85-21.65 19.3-19.95 17.7-18.3 15.0-17.05 14.05-14.9 12.8-13.9 11.15-12.1 9.5-10.3 7.8-8.5 5.75-6.7 4.05-5.45 2.4-3.8 0.75-1.45",
    "23.6-24 21.95-22.75 20.35-21.05 18.8-19.45 15.6-18.15 13.9-15.0 12.3-13.35 10.55-11.45 8.95-9.6 7.25-7.9 5.1-6.0 3.2-4.85 1.7-2.65 0.2-0.9",
    "23.05-23.75 21.4-22.2 19.8-20.55 18.2-18.9 16.4-17.55 14.6-16.3 13.35-13.95 11.7-12.65 10.05-10.85 8.35-9.1 6.7-7.35 4.6-5.45 3.55-4.3 2.65-3.45 1.1-2.5 0-0.4",
    "22.5-23.3 20.85-21.65 19.3-19.95 17.7-18.3 15.7-17.05 13.95-15.35 12.8-13.6 11.15-11.95 9.5-10.3 7.8-8.5 5.75-6.7 4.05-5.45 3.2-3.7 2.4-3.1 0.75-1.45",
    "23.6-24 21.95-22.75 20.35-21.05 18.8-19.45 16.85-18.1 15.6-16.6 13.9-14.75 12.3-13.1 10.55-11.45 8.95-9.6 7.25-7.9 5.1-6.0 3.35-4.75 1.95-3.1 0.2-0.9",
    "23.05-23.75 21.4-22.2 19.8-20.55 18.2-18.9 14.6-17.55 13.35-13.95 11.7-12.65 10.05-10.85 8.35-9.1 6.7-7.35 4.6-5.45 2.75-4.3 1.45-2.65 0-0.4",
    "22.5-23.3 20.85-21.65 19.3-19.95 17.7-18.3 15.7-17.05 14.05-15.35 12.8-13.6 11.15-11.95 9.5-10.3 7.8-8.5 5.75-6.7 4.75-5.45 4.05-4.6 2.4-3.1 0.75-1.45",
    "23.6-24 21.95-22.75 20.35-21.05 18.8-19.45 16.4-18.1 15.6-16.4 13.9-14.75 12.3-13.1 10.55-11.45 8.95-9.6 7.25-7.9 5.1-6.0 3.35-4.85 1.7-3.2 0.2-0.9",
    "23.05-23.75 21.4-22.2 19.8-20.55 18.2-18.9 14.6-17.55 13.35-13.95 11.7-12.65 10.05-10.85 8.35-9.1 6.7-7.35 4.6-5.45 3.0-3.7 1.35-2.0 0-0.4",
    "22.5-23.3 20.85-21.65 19.3-19.95 17.7-18.3 15.0-17.05 13.9-14.9 12.8-13.6 11.15-11.95 9.5-10.3 7.8-8.5 5.75-6.7 4.05-5.45 2.3-3.8 0.75-1.45",
    "23.6-24 21.95-22.75 20.35-21.05 18.8-19.45 15.6-18.1 13.9-14.75 12.3-13.1 10.55-11.45 8.95-9.7 7.25-7.9 5.2-6.0 3.45-4.25 1.95-3.1 0.2-0.9",
    "23.05-23.75 21.4-22.2 19.8-20.55 18.2-18.9 14.6-17.55 13.35-13.95 11.7-12.65 10.05-10.85 8.35-9.1 6.7-7.35 4.6-5.45 3.0-3.7 2.2-2.65 0-0.4",
    "22.5-23.3 20.85-21.65 19.3-19.95 17.7-18.3 15.7-17.05 13.9-15.35 12.8-13.6 11.15-11.95 9.5-10.3 7.8-8.5 5.75-6.7 4.05-5.45 2.4-3.8 0.75-1.45",
    "23.6-24 21.95-22.75 20.35-21.05 18.8-19.45 16.85-18.1 15.6-16.6 13.9-14.75 12.3-13.1 10.55-11.45 8.95-9.7 7.25-7.9 5.2-6.0 3.35-4.85 1.8-3.2 0.2-0.9",
    "23.05-23.75 21.4-22.2 19.8-20.55 18.2-18.9 14.6-17.55 13.35-13.95 11.7-12.65 10.05-10.9 8.35-9.1 6.7-7.35 4.6-5.45 2.65-4.3 1.7-2.4 0-0.4",
    "22.5-23.3 20.85-21.65 19.3-19.95 17.7-18.3 15.7-17.05 13.95-15.6 12.8-13.6 11.15-11.95 9.5-10.3 7.8-8.5 5.75-6.7 4.05-5.45 2.4-3.1 0.75-1.45",
    "23.6-24 21.95-22.75 20.35-21.05 18.8-19.45 16.85-18.1 15.6-16.6 13.9-14.75 12.3-13.1 10.55-11.45 8.95-9.7 7.25-7.9 5.2-6.0 1.7-4.85 0.2-0.9",
    "23.05-23.75 21.4-22.2 19.8-20.55 18.2-18.9 13.35-17.55 11.7-12.65 10.05-10.85 8.35-9.1 6.7-7.35 4.6-5.45 1.7-4.3 0-0.4",
    "22.5-23.3 20.85-21.65 19.3-19.95 17.7-18.3 15.7-17.05 13.95-15.35 12.8-13.6 11.15-11.95 9.5-10.3 7.8-8.5 5.75-6.7 4.05-5.45 2.4-3.8 0.75-1.45",
    "23.6-24 21.95-22.75 20.35-21.05 18.8-19.45 15.6-18.1 13.9-14.9 12.3-13.1 10.55-11.45 8.95-9.7 7.25-7.9 5.2-6.0 3.45-4.75 1.95-3.1 0.2-0.9",
    "23.05-23.75 21.4-22.2 19.8-20.55 18.2-18.9 14.6-17.55 13.35-14.45 11.7-12.75 10.05-10.85 8.35-9.1 6.7-7.35 4.6-5.45 1.1-4.3 0-0.4",
    "22.5-23.3 20.85-21.65 19.3-19.95 17.7-18.3 15.6-17.05 13.95-15.6 12.8-13.85 11.15-11.95 9.5-10.3 7.8-8.5 5.75-6.7 2.15-5.45 0.65-1.45",
    "23.6-24 21.95-22.75 20.35-21.05 18.8-19.45 15.6-18.1 13.9-14.9 12.3-13.1 10.55-11.45 8.95-9.7 7.25-7.9 5.2-6.0 3.35-4.85 1.8-3.2 0.2-0.9",
    "23.05-23.75 21.4-22.2 19.8-20.55 18.2-18.9 16.6-17.55 15.0-15.95 13.35-13.95 11.7-12.65 10.05-10.85 8.35-9.1 6.7-7.35 4.6-5.45 1.1-4.3 0-0.4",
    "22.5-23.3 20.85-21.65 19.3-19.95 17.7-18.3 15.7-17.0 13.95-15.6 12.8-13.6 11.15-11.95 9.5-10.3 7.8-8.5 5.75-6.7 4.05-5.45 2.3-3.8 0.65-1.45",
    "23.6-24 21.95-22.75 20.35-21.05 18.8-19.45 16.85-18.05 15.8-16.5 13.9-14.95 12.3-13.35 8.95-9.65 7.25-7.9 3.35-5.0 1.8-3.2 0.2-0.75",
    "22.5-23.3 20.85-21.65 19.8-20.4 17.0-17.55 16.2-16.85 15.25-15.95 14.6-15.1 13.7-14.3 11.8-12.7 10.2-10.9 8.35-9.05 4.05-4.6 2.5-3.8 0.75-2.4 0-0.4",
    "22.5-23.35 20.85-21.65 19.3-19.95 17.7-18.3 15.6-16.65 14.05-15.5 13.35-13.95 11.15-12.1 9.5-10.35 7.75-8.6 5.75-6.7 4.4-5.45 3.55-4.25 2.15-3.45 0.75-1.6",
    "23.6-24 21.95-22.75 20.35-21.05 18.8-19.45 16.85-18.1 15.6-16.15 14.05-15.5 12.3-13.6 10.55-11.45 8.95-9.7 7.25-7.9 5.2-6.0 4.05-4.85 3.35-3.9 1.8-3.1 0.2-0.75",
    "23.05-23.75 21.4-22.2 19.8-20.55 18.2-18.9 16.3-17.55 14.6-15.6 13.35-14.45 11.7-12.65 10.05-10.85 8.35-9.1 6.7-7.35 4.6-5.45 3.7-4.3 2.2-2.65 0-0.4",
]

GOOD_DAYS = [GOOD_JAN, GOOD_FEB, GOOD_MAR, GOOD_APR, GOOD_MAY, GOOD_JUN]

QUALITY_LABELS = ["good", "degraded", "bad", "missing"]
QUALITY_COLORS = ["#2ca02c", "#ff7f0e", "#d62728", "white"]
TICK_DAYS = [1, 5, 9, 13, 17, 21, 25, 29]

# ── style ──────────────────────────────────────────────────────────────────────
sns.set_theme(style="ticks", rc={
    "axes.grid": True,
    "grid.color": "#b0b0b0",
    "grid.linewidth": 0.8,
    "axes.edgecolor": "#222222",
    "axes.linewidth": 0.8,
    "xtick.major.size": 3,
    "ytick.major.size": 3,
    "xtick.major.width": 0.7,
    "ytick.major.width": 0.7,
})
plt.rcParams["font.family"] = ["DejaVu Sans"]


def month_frame(month: str, days: list[str]) -> pd.DataFrame:
    """Turn one month of 'lo-hi lo-hi ...' strings into a long table."""
    first = pd.Timestamp(month + "-01")
    rows = []
    for i, spans in enumerate(days):
        day = first + pd.Timedelta(days=i)
        for span in spans.split():
            lo, hi = span.split("-")
            rows.append((day, float(lo), float(hi)))
    return pd.DataFrame(rows, columns=["date", "start", "end"])


fig = plt.figure(figsize=(12.39, 12.49), dpi=100)
W, H = 1239, 1249
col_left = [44, 668]
row_top = [50, 469, 888]
ax_w, ax_h = 573, 342

handles = [Patch(facecolor=c, edgecolor="#888888" if lab == "missing" else c,
                 linewidth=0.8, label=lab)
           for lab, c in zip(QUALITY_LABELS, QUALITY_COLORS)]

for k, (month, days) in enumerate(zip(MONTHS, GOOD_DAYS)):
    r, c = divmod(k, 2)
    ax = fig.add_axes([col_left[c] / W, 1 - (row_top[r] + ax_h) / H,
                       ax_w / W, ax_h / H])
    df = month_frame(month, days)
    x = mdates.date2num(df["date"].dt.to_pydatetime())
    ax.vlines(x, df["start"], df["end"], colors=QUALITY_COLORS[0],
              linewidth=4.8, capstyle="butt", zorder=2)

    first = pd.Timestamp(month + "-01")
    last = first + pd.offsets.MonthEnd(0)
    ax.xaxis_date()
    ax.set_xlim(mdates.date2num(first - pd.Timedelta(days=1)),
                mdates.date2num(last + pd.Timedelta(days=1)))
    ticks = [first + pd.Timedelta(days=d - 1) for d in TICK_DAYS if d <= last.day]
    ax.set_xticks(mdates.date2num(ticks))
    ax.xaxis.set_major_formatter(mdates.DateFormatter("%Y-%m-%d"))
    ax.set_ylim(0, 24)
    ax.set_yticks([0, 5, 10, 15, 20])
    ax.tick_params(labelsize=7.3, pad=2)
    ax.set_ylabel("Hours of the day", fontsize=7.3)
    ax.set_title(f"FDR_MWR ER2 quality for month {month}", fontsize=8.9, pad=23)
    ax.legend(handles=handles, loc="lower center", bbox_to_anchor=(0.5, 1.0155),
              ncol=4, fontsize=7.3, frameon=True, borderaxespad=0.5)
    for s in ax.spines.values():
        s.set_visible(True)

fig.savefig("out.png", dpi=100)
